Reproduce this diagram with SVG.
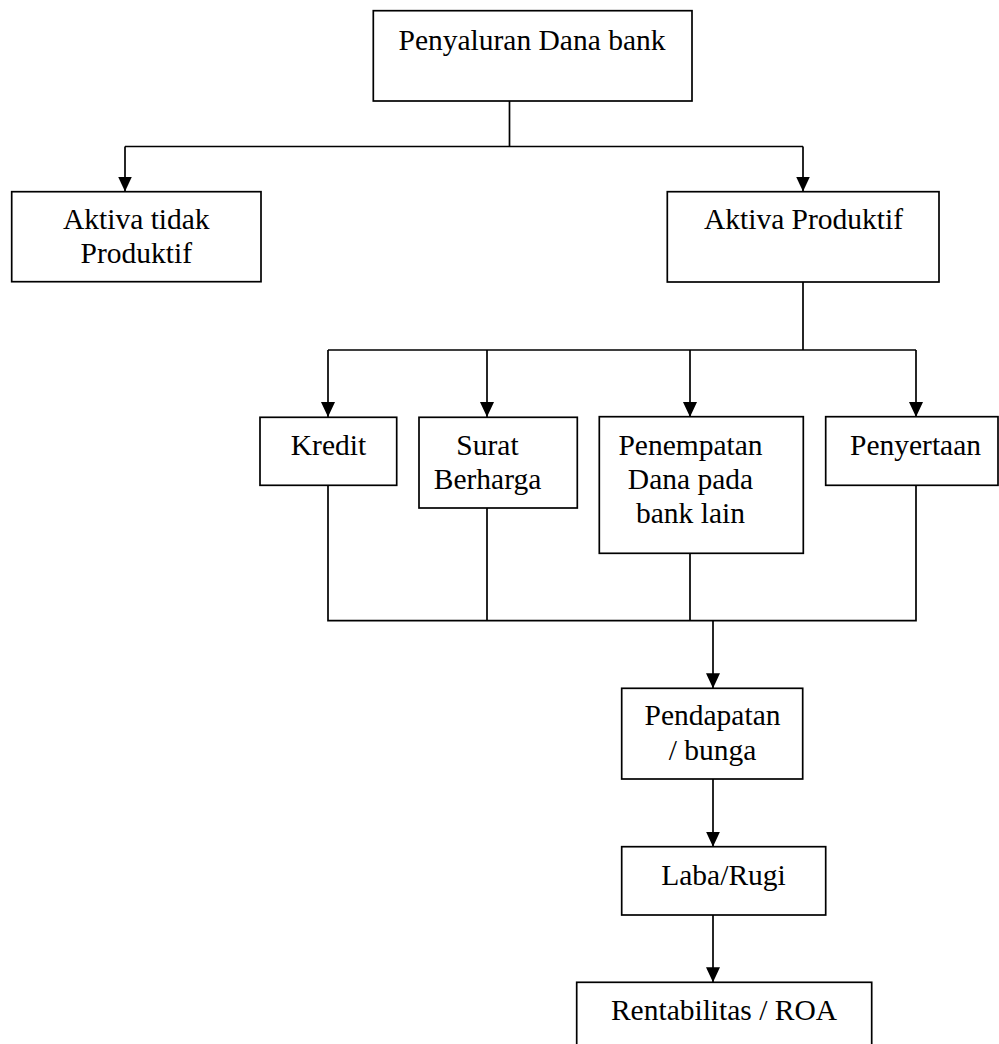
<svg xmlns="http://www.w3.org/2000/svg" width="999" height="1044" viewBox="0 0 999 1044">
<style>
.box{fill:#fff;stroke:#000;stroke-width:1.7}
.t{font-family:"Liberation Serif","Times New Roman",serif;font-size:29.5px;fill:#000;text-anchor:middle}
.ln{fill:none;stroke:#000;stroke-width:1.7}
</style>
<defs>
<marker id="ah" markerUnits="userSpaceOnUse" markerWidth="14" markerHeight="15" refX="7" refY="15" orient="0" viewBox="0 0 14 15">
<path d="M0,0 L14,0 L7,15 Z" fill="#000"/>
</marker>
</defs>
<rect width="999" height="1044" fill="#fff"/>
<g id="connectors">
<path class="ln" d="M509.5,101 V146.5 M125,146.5 H803"/>
<path class="ln" d="M125,146.5 V191.5" marker-end="url(#ah)"/>
<path class="ln" d="M803,146.5 V191.5" marker-end="url(#ah)"/>
<path class="ln" d="M803,282 V350 M328,350 H916"/>
<path class="ln" d="M328,350 V417" marker-end="url(#ah)"/>
<path class="ln" d="M487,350 V417" marker-end="url(#ah)"/>
<path class="ln" d="M690,350 V417" marker-end="url(#ah)"/>
<path class="ln" d="M916,350 V417" marker-end="url(#ah)"/>
<path class="ln" d="M328,485 V620.7 H916 V485 M487,508 V620.7 M690,553 V620.7"/>
<path class="ln" d="M713,620.7 V688.3" marker-end="url(#ah)"/>
<path class="ln" d="M713,779 V846.7" marker-end="url(#ah)"/>
<path class="ln" d="M713,915 V982.3" marker-end="url(#ah)"/>
</g>
<g id="n-penyaluran">
<rect class="box" x="373.3" y="10.7" width="318.7" height="90.3"/>
<text class="t" x="532" y="49.5">Penyaluran Dana bank</text>
</g>
<g id="n-aktiva-tidak">
<rect class="box" x="11.7" y="191.7" width="249.3" height="90"/>
<text class="t" x="136.3" y="229">Aktiva tidak</text>
<text class="t" x="136.3" y="263">Produktif</text>
</g>
<g id="n-aktiva-produktif">
<rect class="box" x="667.3" y="191.7" width="271.7" height="90.3"/>
<text class="t" x="803.5" y="229">Aktiva Produktif</text>
</g>
<g id="n-kredit">
<rect class="box" x="260" y="417.3" width="136.7" height="68"/>
<text class="t" x="328.5" y="455">Kredit</text>
</g>
<g id="n-surat">
<rect class="box" x="419" y="417.3" width="158.3" height="90.7"/>
<text class="t" x="487.5" y="455">Surat</text>
<text class="t" x="487.5" y="489">Berharga</text>
</g>
<g id="n-penempatan">
<rect class="box" x="599.3" y="416.7" width="204" height="136.6"/>
<text class="t" x="690.5" y="454.5">Penempatan</text>
<text class="t" x="690.5" y="488.5">Dana pada</text>
<text class="t" x="690.5" y="522.5">bank lain</text>
</g>
<g id="n-penyertaan">
<rect class="box" x="825.7" y="416.7" width="172.3" height="68.6"/>
<text class="t" x="915.5" y="454.5">Penyertaan</text>
</g>
<g id="n-pendapatan">
<rect class="box" x="621.7" y="688.3" width="181" height="90.7"/>
<text class="t" x="712.5" y="725">Pendapatan</text>
<text class="t" x="712.5" y="759.5">/ bunga</text>
</g>
<g id="n-laba">
<rect class="box" x="621.7" y="846.7" width="204" height="68.3"/>
<text class="t" x="723.5" y="885">Laba/Rugi</text>
</g>
<g id="n-rentabilitas">
<rect class="box" x="576.7" y="982.3" width="295" height="80"/>
<text class="t" x="724" y="1020">Rentabilitas / ROA</text>
</g>
</svg>
